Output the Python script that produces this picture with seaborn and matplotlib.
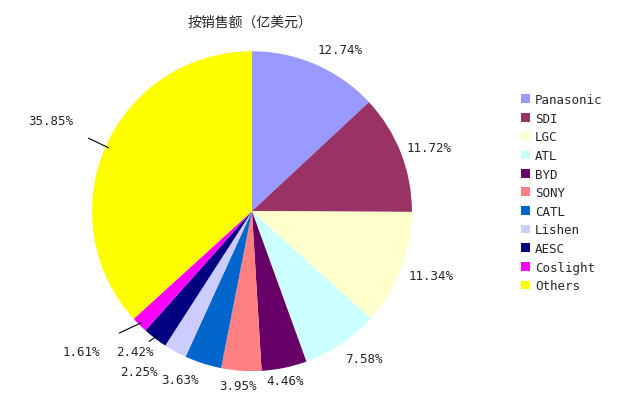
import matplotlib
matplotlib.use("Agg")
import matplotlib.pyplot as plt
import seaborn as sns
import numpy as np

sns.set_theme(style="white")
plt.rcParams["font.family"] = ["DejaVu Sans Mono", "Noto Sans CJK SC"]

categories = ["Panasonic", "SDI", "LGC", "ATL", "BYD", "SONY", "CATL", "Lishen", "AESC", "Coslight", "Others"]
shares = [12.74, 11.72, 11.34, 7.58, 4.46, 3.95, 3.63, 2.25, 2.42, 1.61, 35.85]
colors = ["#9999FF", "#993366", "#FFFFCC", "#CCFFFF", "#660066", "#FF8080",
          "#0066CC", "#CCCCFF", "#000080", "#FF00FF", "#FFFF00"]
# label text positions (data units, pie radius = 1)
label_pos = [(0.55, 1.01), (1.11, 0.4), (1.12, -0.4), (0.7, -0.92), (0.21, -1.06),
             (-0.09, -1.09), (-0.45, -1.05), (-0.71, -1.0), (-0.73, -0.875),
             (-1.07, -0.875), (-1.26, 0.57)]
leader = {"Coslight", "AESC", "Others"}

fig = plt.figure(figsize=(6.26, 4.14), dpi=100)
ax = fig.add_axes([0.147, 0.101, 0.511, 0.773])
wedges, _ = ax.pie(shares, colors=colors, startangle=90, counterclock=False,
                   radius=1, wedgeprops=dict(linewidth=0))
ax.set_xlim(-1, 1); ax.set_ylim(-1, 1)
ax.set_aspect("equal")

for w, s, c, (tx, ty) in zip(wedges, shares, categories, label_pos):
    mid = np.deg2rad((w.theta1 + w.theta2) / 2)
    ex, ey = np.cos(mid), np.sin(mid)
    if c in leader:
        ax.annotate(f"{s:.2f}%", xy=(ex * 0.98, ey * 0.98), xytext=(tx, ty),
                    ha="center", va="center", fontsize=9, annotation_clip=False,
                    arrowprops=dict(arrowstyle="-", color="black", lw=0.8,
                                    shrinkA=14, shrinkB=0))
    else:
        ax.text(tx, ty, f"{s:.2f}%", ha="center", va="center", fontsize=9, clip_on=False)

fig.text(0.4, 0.945, "按销售额（亿美元）", ha="center", va="center",
         fontsize=10, family="Noto Sans CJK SC")
fig.legend(wedges, categories, loc="upper left", bbox_to_anchor=(0.815, 0.8),
           frameon=False, fontsize=9, handlelength=0.7, handleheight=0.7,
           labelspacing=0.45, handletextpad=0.4)
fig.savefig("out.png", dpi=100)
